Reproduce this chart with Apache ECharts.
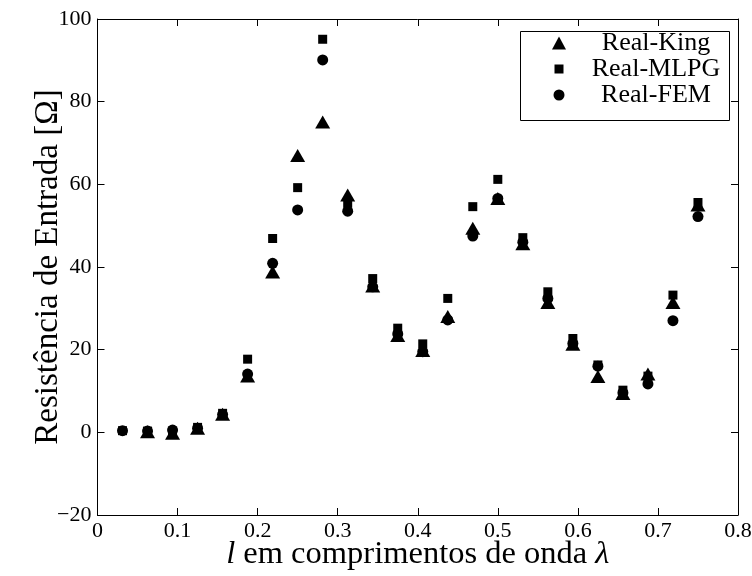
<!DOCTYPE html>
<html>
<head>
<meta charset="utf-8">
<script src="https://cdn.jsdelivr.net/npm/echarts@6/dist/echarts.min.js"></script>
<style>html,body{margin:0;padding:0;background:#fff}#c{width:752px;height:576px}</style>
</head>
<body>
<div id="c"></div>
<script>
// x positions (wavelengths)
const xKing = [0.0625,0.09375,0.125,0.15625,0.1875,0.21875,0.25,0.28125,0.3125,0.34375,0.375,0.40625,0.4375,0.46875,0.5,0.53125,0.5625,0.59375,0.625,0.65625,0.6875,0.71875,0.75];
const yKing = [0.15,-0.25,1.0,4.4,13.6,38.8,67.0,75.1,57.4,35.4,23.4,19.8,28.0,49.4,56.6,45.6,31.4,21.3,13.5,9.4,14.1,31.4,55.0];
const xMLPG = [0.03125,0.0625,0.09375,0.125,0.15625,0.1875,0.21875,0.25,0.28125,0.3125,0.34375,0.375,0.40625,0.4375,0.46875,0.5,0.53125,0.5625,0.59375,0.625,0.65625,0.6875,0.71875,0.75];
const yMLPG = [0.4,0.3,0.3,1.2,4.6,17.7,46.9,59.2,95.1,55.4,37.2,25.2,21.4,32.4,54.6,61.2,47.1,34.0,22.7,16.3,10.2,13.6,33.2,55.6];
const xFEM = [0.03125,0.0625,0.09375,0.125,0.15625,0.1875,0.21875,0.25,0.28125,0.3125,0.34375,0.375,0.40625,0.4375,0.46875,0.5,0.53125,0.5625,0.59375,0.625,0.65625,0.6875,0.71875,0.75];
const yFEM = [0.4,0.3,0.55,1.0,4.3,14.1,40.9,53.8,90.1,53.5,35.2,23.8,19.5,27.2,47.5,56.6,46.0,32.4,21.5,16.0,9.6,11.7,27.0,52.2];
const seriesNames = ['Real-King','Real-MLPG','Real-FEM'];
const xTicks = [0,0.1,0.2,0.3,0.4,0.5,0.6,0.7,0.8];
const yTicks = [-20,0,20,40,60,80,100];

const FONT = 'Liberation Serif';
const pair = (xs, ys) => xs.map((x,i)=>[x, ys[i]]);
const axisLine = () => ({show:true, onZero:false, lineStyle:{color:'#000', width:1}});
const tick = () => ({show:true, inside:true, length:7, lineStyle:{color:'#000', width:1}});
const fmtNum = v => String(v).replace('-', '\u2212');
const mark = {color:'#000', opacity:1};

const chart = echarts.init(document.getElementById('c'), null, {renderer:'canvas'});
chart.setOption({
  animation:false,
  backgroundColor:'#fff',
  grid:{left:97.5, right:14, top:19, bottom:61, containLabel:false, outerBoundsMode:'none'},
  xAxis:[{
    type:'value', min:xTicks[0], max:xTicks[xTicks.length-1], interval:0.1,
    axisLine:axisLine(), axisTick:tick(), splitLine:{show:false},
    axisLabel:{color:'#000', fontFamily:FONT, fontSize:22, margin:5, formatter:fmtNum},
    name:'{i|l} em comprimentos de onda {i|λ}', nameLocation:'middle', nameGap:23, nameMoveOverlap:false,
    nameTextStyle:{color:'#000', fontFamily:FONT, fontSize:32.5, rich:{i:{fontStyle:'italic', fontFamily:FONT, fontSize:32.5, color:'#000'}}}
  },{
    type:'value', position:'top', min:xTicks[0], max:xTicks[xTicks.length-1], interval:0.1,
    axisLine:axisLine(), axisTick:tick(), axisLabel:{show:false}, splitLine:{show:false}
  }],
  yAxis:[{
    type:'value', position:'left', min:yTicks[0], max:yTicks[yTicks.length-1], interval:20,
    axisLine:axisLine(), axisTick:tick(), splitLine:{show:false},
    axisLabel:{color:'#000', fontFamily:FONT, fontSize:22, margin:6, formatter:fmtNum},
    name:'Resistência de Entrada [Ω]', nameLocation:'middle', nameGap:33, nameMoveOverlap:false,
    nameTextStyle:{color:'#000', fontFamily:FONT, fontSize:33}
  },{
    type:'value', position:'right', min:yTicks[0], max:yTicks[yTicks.length-1], interval:20,
    axisLine:axisLine(), axisTick:tick(), axisLabel:{show:false}, splitLine:{show:false}
  }],
  legend:{
    orient:'vertical', left:552, top:30, padding:0, itemGap:0,
    itemWidth:14, itemHeight:13,
    itemStyle:{color:'#000', opacity:1},
    data:[
      {name:seriesNames[0], icon:'triangle'},
      {name:seriesNames[1], icon:'path://M0,0L0,0M13,13L13,13M2,2L11,2L11,11L2,11Z'},
      {name:seriesNames[2], icon:'path://M0,0L0,0M13,13L13,13M12,6.5A5.5,5.5,0,1,1,1,6.5A5.5,5.5,0,1,1,12,6.5Z'}
    ],
    formatter:'{t|{name}}',
    textStyle:{color:'#000', fontFamily:FONT, fontSize:26,
      rich:{t:{width:170, align:'center', fontFamily:FONT, fontSize:26, lineHeight:29, color:'#000'}}}
  },
  graphic:[{type:'rect', left:518, top:29, shape:{width:209, height:89}, style:{fill:'none', stroke:'#000', lineWidth:1}, z:1}],
  series:[
    {name:seriesNames[0], type:'scatter', data:pair(xKing,yKing), symbol:'triangle', symbolSize:[15,13], itemStyle:mark},
    {name:seriesNames[1], type:'scatter', data:pair(xMLPG,yMLPG), symbol:'rect', symbolSize:9, itemStyle:mark},
    {name:seriesNames[2], type:'scatter', data:pair(xFEM,yFEM), symbol:'circle', symbolSize:11, itemStyle:mark}
  ]
});
</script>
</body>
</html>
